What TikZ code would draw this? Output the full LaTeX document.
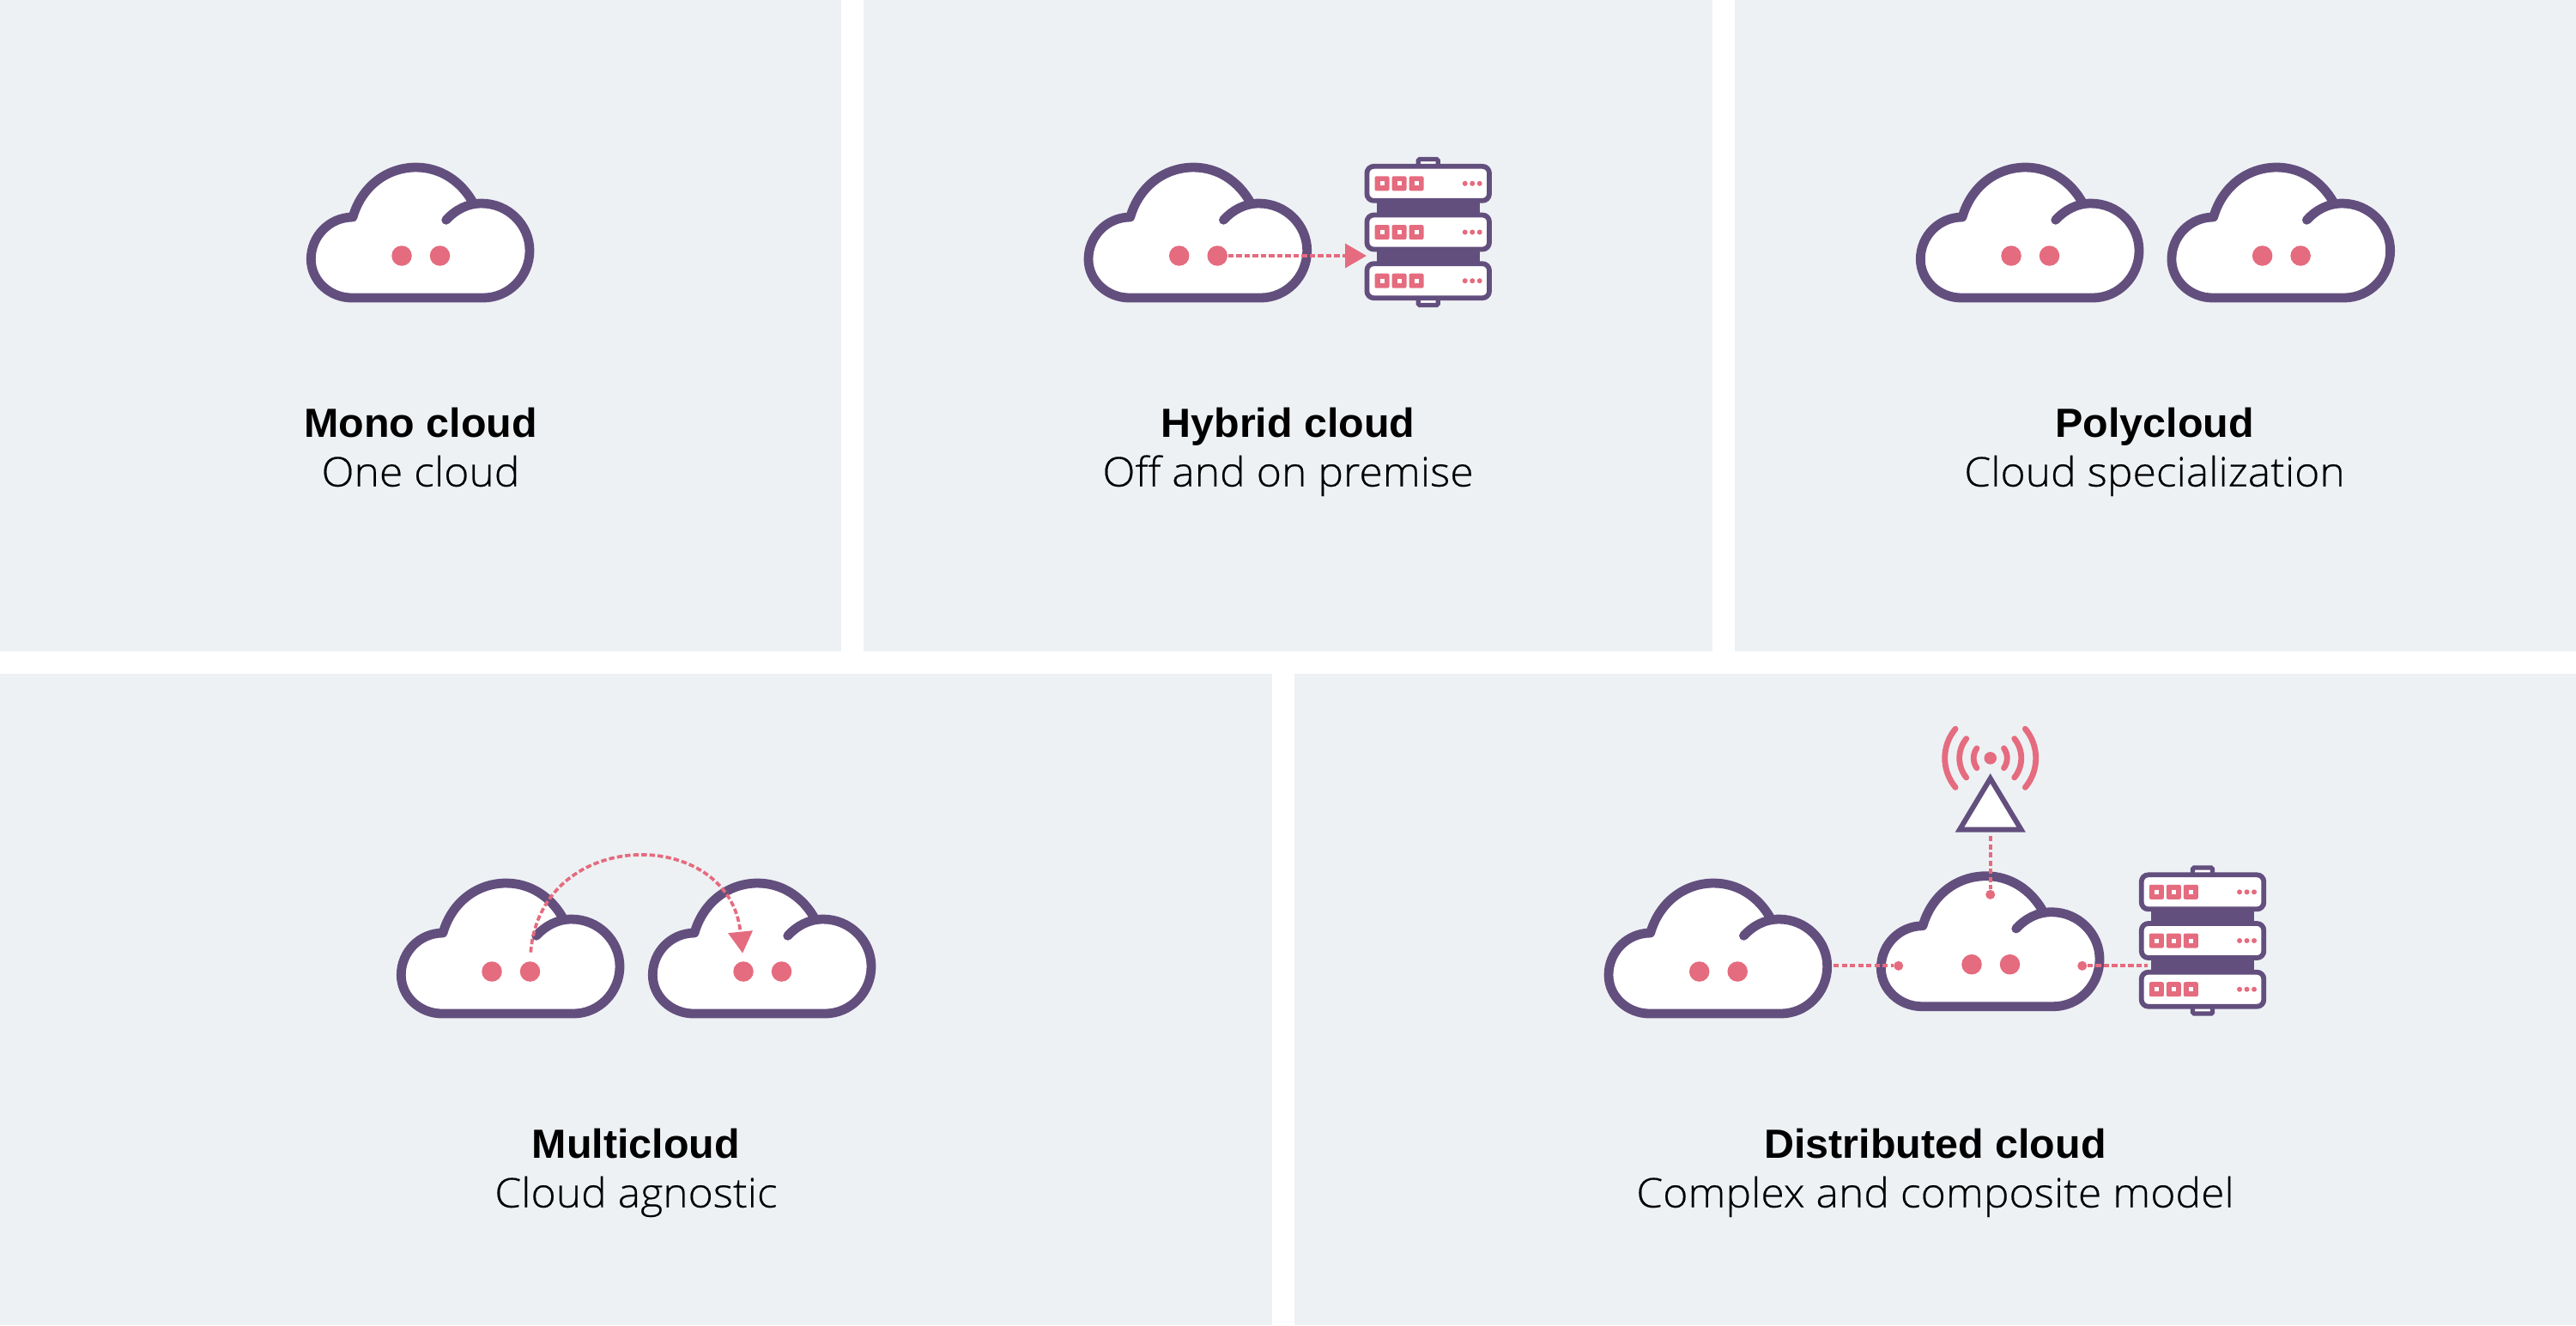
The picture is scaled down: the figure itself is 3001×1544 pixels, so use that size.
\documentclass[tikz,border=0pt]{standalone}
\usepackage{fontspec}
\setmainfont{Liberation Sans}[FakeStretch=1.02]
\newfontfamily\subfont{Open Sans Light}[FakeStretch=1.05,FakeBold=.35]
\usetikzlibrary{arrows.meta}
\definecolor{panelgrey}{RGB}{237,241,244}
\definecolor{cloudpurple}{RGB}{99,79,126}
\definecolor{dotpink}{RGB}{229,107,126}
\pgfdeclarelayer{edgelayer}
\pgfdeclarelayer{nodelayer}
\pgfsetlayers{main,edgelayer,nodelayer}
\tikzstyle{panel}=[fill=panelgrey,draw=none]
\tikzstyle{dot}=[circle,fill=dotpink,draw=none,inner sep=0pt,minimum size=.235cm]
\tikzstyle{pin}=[circle,fill=dotpink,draw=none,inner sep=0pt,minimum size=.11cm]
\tikzstyle{link}=[dotpink,line width=.037cm,dash pattern=on .064cm off .031cm]
\tikzstyle{linkarrow}=[link,-{Triangle[length=.25cm,width=.28cm]}]
\tikzstyle{wave}=[dotpink,line width=.068cm,line cap=round]
\tikzstyle{title}=[anchor=base,inner sep=0pt,font=\fontsize{13.5pt}{16pt}\selectfont\bfseries]
\tikzstyle{subtitle}=[anchor=base,inner sep=0pt,font=\fontsize{13.5pt}{16pt}\subfont]
\tikzset{
    cloud/.pic={
        \draw [cloudpurple,fill=white,line width=.108cm,line cap=round,line join=round]
            (51.7,-41.7) .. controls (62,-53) and (76,-61) .. (93,-61)
            .. controls (124,-61) and (149,-36) .. (149,-6)
            .. controls (149,24) and (125,49) .. (95,49)
            -- (-58,49)
            .. controls (-84,49) and (-105.7,29) .. (-105.7,4)
            .. controls (-105.7,-23) and (-84,-45) .. (-57,-45)
            .. controls (-47,-80) and (-18,-103) .. (16.7,-103)
            .. controls (45,-103) and (69,-87) .. (83,-62);
        \begin{pgfonlayer}{nodelayer}
            \node [style=dot] (-a) at (0,0) {};
            \node [style=dot] (-b) at (44.5,0) {};
        \end{pgfonlayer}
    },
    rack/.pic={
        \fill [cloudpurple] (-60,-45) rectangle (60,45);
        \foreach \s in {-1,1} {
            \draw [cloudpurple,fill=white,line width=.052cm,rounded corners=.015cm]
                (-11.5,\s*85) rectangle (11.5,\s*72);
        }
        \foreach \y in {-56.7,0,56.7} {
            \draw [cloudpurple,fill=white,line width=.058cm,rounded corners=.08cm]
                (-71.3,\y-20) rectangle (71.3,\y+20);
            \foreach \x in {-53.7,-33.7,-13.7} {
                \fill [dotpink,rounded corners=.02cm] (\x-8.5,\y-8.5) rectangle (\x+8.5,\y+8.5);
                \fill [white] (\x-2.5,\y-2.5) rectangle (\x+2.5,\y+2.5);
            }
            \foreach \x in {43,51.5,60} {
                \fill [dotpink] (\x,\y) circle [radius=.03cm];
            }
        }
    }
}

\begin{document}
\begin{tikzpicture}[x=.01cm,y=-.01cm]
    \useasboundingbox (0,0) rectangle (3001,1544);

    \fill [style=panel] (0,0) rectangle (980,758.5);
    \fill [style=panel] (1006,0) rectangle (1995,758.5);
    \fill [style=panel] (2021,0) rectangle (3001,758.5);
    \fill [style=panel] (0,785) rectangle (1482,1544);
    \fill [style=panel] (1508,785) rectangle (3001,1544);

    \pic (mono) at (468,298) {cloud};
    \pic (hybrid) at (1373.7,298) {cloud};
    \pic at (1663.7,270.5) {rack};
    \pic (polya) at (2343,298) {cloud};
    \pic (polyb) at (2635.6,298) {cloud};
    \pic (multia) at (573,1132) {cloud};
    \pic (multib) at (866,1132) {cloud};
    \pic (dista) at (1979.7,1132) {cloud};
    \pic (distb) at (2297,1123.7) {cloud};
    \pic at (2566,1096) {rack};

    % antenna
    \draw [cloudpurple,fill=white,line width=.06cm,miter limit=10] (2318.7,907) -- (2354.5,966.5) -- (2283,966.5) -- cycle;
    \coordinate (hport) at (1592,298);
    \coordinate (mastfoot) at (2318.7,974);
    \coordinate (distaport) at (2136,1125.3);
    \coordinate (rackport) at (2501.7,1125.3);

    \begin{pgfonlayer}{nodelayer}
        \node [style=title] (monotitle) at (490,509) {Mono cloud};
        \node [style=subtitle] (monosub) at (490,566.7) {One cloud};
        \node [style=title] (hybridtitle) at (1500.5,509) {Hybrid cloud};
        \node [style=subtitle] (hybridsub) at (1500.5,566.7) {Off and on premise};
        \node [style=title] (polytitle) at (2510,509) {Polycloud};
        \node [style=subtitle] (polysub) at (2510,566.7) {Cloud specialization};
        \node [style=title] (multititle) at (741,1349.3) {Multicloud};
        \node [style=subtitle] (multisub) at (741,1406.7) {Cloud agnostic};
        \node [style=title] (disttitle) at (2254.5,1349.3) {Distributed cloud};
        \node [style=subtitle] (distsub) at (2254.5,1406.7) {Complex and composite model};

        \node [circle,fill=dotpink,inner sep=0pt,minimum size=.145cm] (mast) at (2318.7,883.3) {};
        \node [style=pin] (pintop) at (2318.7,1042.3) {};
        \node [style=pin] (pinleft) at (2211.7,1125.3) {};
        \node [style=pin] (pinright) at (2425.7,1125.3) {};
    \end{pgfonlayer}

    \foreach \r/\a in {.195/36,.36/39,.53/40} {
        \draw [style=wave] (mast) ++(-\a:\r cm) arc [start angle=-\a,end angle=\a,radius=\r cm];
        \draw [style=wave] (mast) ++(180-\a:\r cm) arc [start angle=180-\a,end angle=180+\a,radius=\r cm];
    }

    \begin{pgfonlayer}{edgelayer}
        \draw [style=linkarrow] (hybrid-b) -- (hport);
        \draw [style=linkarrow,shorten <=.1cm,shorten >=.09cm] (multia-b.north) .. controls (630,962) and (850,962) .. (multib-a.north);
        \draw [style=link] (mastfoot) -- (pintop);
        \draw [style=link] (distaport) -- (pinleft);
        \draw [style=link] (pinright) -- (rackport);
    \end{pgfonlayer}
\end{tikzpicture}
\end{document}
